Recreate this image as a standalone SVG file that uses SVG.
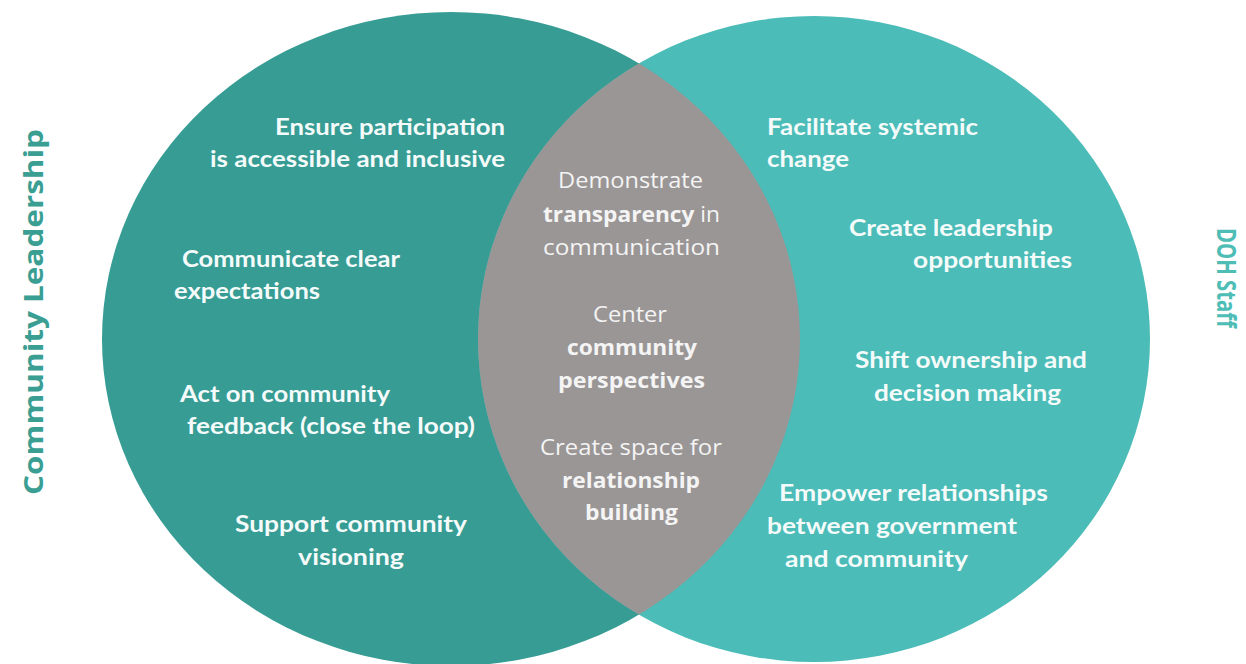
<svg xmlns="http://www.w3.org/2000/svg" width="1246" height="664" viewBox="0 0 1246 664">
<style>
.t{font-family:Lato,"Open Sans","Liberation Sans",sans-serif;font-size:23px;font-weight:700;fill:#F4FBFA}
.m{font-family:"Open Sans",Lato,"Liberation Sans",sans-serif;font-size:21px;font-weight:400;fill:#F4F4F4}
.mb{font-family:"Open Sans",Lato,"Liberation Sans",sans-serif;font-size:21px;font-weight:700;fill:#F4F4F4}
.side{font-family:"Open Sans","Liberation Sans",sans-serif;font-size:27px;font-weight:700}
</style>
<defs>
<clipPath id="leftClip"><ellipse cx="451" cy="339" rx="349" ry="327"/></clipPath>
</defs>
<rect width="1246" height="664" fill="#FFFFFF"/>
<g id="circle-left"><ellipse cx="451" cy="339" rx="349" ry="327" fill="#369C94"/></g>
<g id="circle-right"><ellipse cx="814" cy="339" rx="336" ry="323" fill="#4BBCB7"/></g>
<g id="overlap"><ellipse cx="814" cy="339" rx="336" ry="323" fill="#9A9696" clip-path="url(#leftClip)"/></g>
<g id="label-left"><text class="side" fill="#3A9E92" text-anchor="middle" textLength="366" lengthAdjust="spacingAndGlyphs" transform="translate(43,312) rotate(-90)">Community Leadership</text></g>
<g id="label-right"><text class="side" fill="#4DBDB6" text-anchor="middle" textLength="100" lengthAdjust="spacingAndGlyphs" transform="translate(1217,278) rotate(90)">DOH Staff</text></g>
<g id="node-ensure">
<text class="t" x="275" y="135" textLength="230" lengthAdjust="spacingAndGlyphs">Ensure participation</text>
<text class="t" x="210" y="167" textLength="295" lengthAdjust="spacingAndGlyphs">is accessible and inclusive</text>
</g>
<g id="node-communicate">
<text class="t" x="182" y="267" textLength="218" lengthAdjust="spacingAndGlyphs">Communicate clear</text>
<text class="t" x="174" y="299" textLength="146" lengthAdjust="spacingAndGlyphs">expectations</text>
</g>
<g id="node-act">
<text class="t" x="180" y="402" textLength="210" lengthAdjust="spacingAndGlyphs">Act on community</text>
<text class="t" x="187" y="434" textLength="288" lengthAdjust="spacingAndGlyphs">feedback (close the loop)</text>
</g>
<g id="node-support">
<text class="t" x="235" y="532" textLength="232" lengthAdjust="spacingAndGlyphs">Support community</text>
<text class="t" x="298" y="565" textLength="106" lengthAdjust="spacingAndGlyphs">visioning</text>
</g>
<g id="node-demonstrate">
<text class="m" x="558" y="188" textLength="145" lengthAdjust="spacingAndGlyphs">Demonstrate</text>
<text class="m" x="543" y="222" textLength="177" lengthAdjust="spacingAndGlyphs"><tspan class="mb">transparency</tspan> in</text>
<text class="m" x="543" y="255" textLength="177" lengthAdjust="spacingAndGlyphs">communication</text>
</g>
<g id="node-center">
<text class="m" x="593" y="322" textLength="74" lengthAdjust="spacingAndGlyphs">Center</text>
<text class="mb" x="567" y="355" textLength="130" lengthAdjust="spacingAndGlyphs">community</text>
<text class="mb" x="558" y="388" textLength="147" lengthAdjust="spacingAndGlyphs">perspectives</text>
</g>
<g id="node-space">
<text class="m" x="540" y="455" textLength="182" lengthAdjust="spacingAndGlyphs">Create space for</text>
<text class="mb" x="562" y="488" textLength="138" lengthAdjust="spacingAndGlyphs">relationship</text>
<text class="mb" x="585" y="520" textLength="93" lengthAdjust="spacingAndGlyphs">building</text>
</g>
<g id="node-facilitate">
<text class="t" x="767" y="135" textLength="211" lengthAdjust="spacingAndGlyphs">Facilitate systemic</text>
<text class="t" x="767" y="167" textLength="82" lengthAdjust="spacingAndGlyphs">change</text>
</g>
<g id="node-leadership">
<text class="t" x="849" y="236" textLength="204" lengthAdjust="spacingAndGlyphs">Create leadership</text>
<text class="t" x="913" y="268" textLength="159" lengthAdjust="spacingAndGlyphs">opportunities</text>
</g>
<g id="node-shift">
<text class="t" x="855" y="368" textLength="232" lengthAdjust="spacingAndGlyphs">Shift ownership and</text>
<text class="t" x="874" y="401" textLength="187" lengthAdjust="spacingAndGlyphs">decision making</text>
</g>
<g id="node-empower">
<text class="t" x="779" y="501" textLength="269" lengthAdjust="spacingAndGlyphs">Empower relationships</text>
<text class="t" x="767" y="534" textLength="250" lengthAdjust="spacingAndGlyphs">between government</text>
<text class="t" x="785" y="567" textLength="183" lengthAdjust="spacingAndGlyphs">and community</text>
</g>
<g id="connectors"/>
</svg>
